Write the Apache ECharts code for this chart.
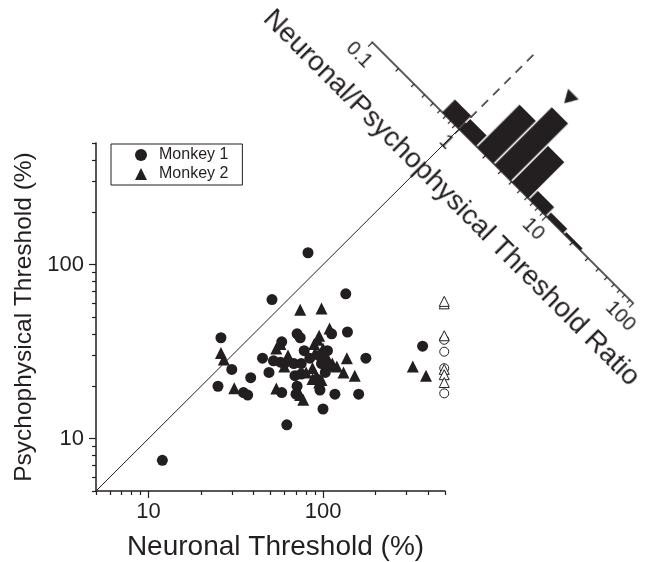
<!DOCTYPE html>
<html>
<head>
<meta charset="utf-8">
<script src="https://cdn.jsdelivr.net/npm/echarts@6/dist/echarts.min.js"></script>
<style>
html, body { margin: 0; padding: 0; overflow: hidden; background: #fff; }
#chart-container { position: absolute; left: 0; top: 0; width: 655px; height: 562px; }
/* ratio histogram: its axis origin (120,125) is pinned on the main chart and the box is turned 45deg */
#ratio-container { position: absolute; left: 251.5px; top: -82.7px; width: 570px; height: 205px;
  transform-origin: 120px 125px; transform: rotate(45deg); }
</style>
</head>
<body>
<div id="chart-container"></div>
<div id="ratio-container"></div>
<script>
// neuronal threshold (%), psychophysical threshold (%)
var monkey1 = [
  [12, 7.5], [82, 117], [51, 63], [135, 68], [26, 38], [138, 41], [71, 40], [74, 38],
  [58, 36], [372, 34], [78, 32], [45, 29], [52, 28], [176, 29], [30, 25], [49, 24],
  [38.5, 22.4], [25, 20], [35, 18.4], [37, 17.8], [71, 20], [58, 18.4], [96, 19], [117, 18],
  [160, 18], [100, 14.8], [62, 12], [112, 40], [57, 27.5], [60, 27], [68, 27], [75, 27],
  [69, 23], [75, 23.5], [98, 27], [103, 24], [95, 30], [106, 32], [92, 22], [70, 18],
  [84, 29], [110, 26]
];
var monkey2 = [
  [26, 31], [27, 28.5], [31, 19.5], [54, 19.4], [74, 55], [98, 56], [109, 43], [95, 39],
  [54, 33], [57, 35], [63, 30], [60, 26], [89, 35], [137, 29], [113, 27], [131, 24],
  [152, 23], [327, 26], [389, 23], [87, 22], [95, 21], [77, 16.7], [74, 17.8], [87, 25.5],
  [107, 28], [98, 21.7], [90, 31], [100, 33], [93, 37], [104, 30], [120, 26], [80, 24]
];
// neuronal threshold above the tested range
var monkey1Open = [[495, 37], [495, 31.6], [495, 25.4], [495, 18.2]];
var monkey2Open = [[495, 59.5], [495, 61.5], [495, 39], [495, 25], [495, 23.3], [495, 21]];

var majorTicks = [10, 100];
var minorTicks = [5, 6, 7, 8, 9, 20, 30, 40, 50, 60, 70, 80, 90, 200, 300, 400, 500];
var unityEnd = 600; // where the identity line meets the ratio axis

// histogram of neuronal/psychophysical ratio
var ratioBinEdges = [0.631, 1, 1.585, 2.512, 3.981, 6.31, 10, 15.85, 25.12];
var ratioCounts = [6, 5, 20, 27, 17, 4, 2, 1];
var ratioMajorTicks = [0.1, 1, 10, 100];
var ratioMinorTicks = [0.2, 0.3, 0.4, 0.5, 0.6, 0.7, 0.8, 0.9, 2, 3, 4, 5, 6, 7, 8, 9,
  20, 30, 40, 50, 60, 70, 80, 90];
var meanRatio = 2.85;

var LOG = Math.log10;
var ink = '#231f20';
var font = 'Liberation Sans, Arial, sans-serif';

function toLog(p) { return [LOG(p[0]), LOG(p[1])]; }
function powLabel(v) { return String(+Math.pow(10, v).toPrecision(3)); }

var dom = document.getElementById('chart-container');
var myChart = echarts.init(dom);
var option;

function mainAxis(dim, major) {
  var ax = {
    type: 'value',
    min: LOG(5),
    max: LOG(500),
    position: dim === 'x' ? 'bottom' : 'left',
    splitLine: { show: false },
    axisLine: { show: major, lineStyle: { color: ink, width: 1.5 } },
    axisTick: {
      customValues: (major ? majorTicks : minorTicks).map(LOG),
      length: major ? 7 : 4,
      lineStyle: { color: ink, width: 1.2 }
    },
    axisLabel: { show: false }
  };
  if (major) {
    ax.axisLabel = {
      customValues: majorTicks.map(LOG),
      formatter: powLabel,
      fontSize: 22,
      margin: dim === 'x' ? 10 : 12,
      color: ink,
      fontFamily: font
    };
    ax.name = dim === 'x' ? 'Neuronal Threshold (%)' : 'Psychophysical Threshold (%)';
    ax.nameLocation = 'middle';
    ax.nameGap = dim === 'x' ? 42 : 52;
    ax.nameTextStyle = dim === 'x'
      ? { fontSize: 28, color: ink, fontFamily: font, padding: [0, 0, 0, 10] }
      : { fontSize: 24.5, color: ink, fontFamily: font };
  }
  return ax;
}

// identity line, drawn past the grid up to the ratio axis
function renderUnity(params, api) {
  var a = api.coord([api.value(0), api.value(1)]);
  var b = api.coord([api.value(2), api.value(3)]);
  return {
    type: 'line',
    shape: { x1: a[0], y1: a[1], x2: b[0], y2: b[1] },
    style: { stroke: ink, lineWidth: 1 }
  };
}

option = {
  animation: false,
  grid: { left: 96, top: 143, width: 349, height: 348, outerBoundsMode: 'none' },
  legend: {
    orient: 'vertical',
    left: 111,
    top: 144,
    itemWidth: 12,
    itemHeight: 12,
    itemGap: 3,
    padding: [3, 14, 3, 24],
    borderColor: ink,
    borderWidth: 1,
    textStyle: { fontSize: 16, color: ink, fontFamily: font, padding: [0, 0, 0, 7] },
    data: [{ name: 'Monkey 1', icon: 'circle' }, { name: 'Monkey 2', icon: 'triangle' }]
  },
  xAxis: [mainAxis('x', true), mainAxis('x', false)],
  yAxis: [mainAxis('y', true), mainAxis('y', false)],
  series: [
    {
      type: 'custom',
      renderItem: renderUnity,
      silent: true,
      clip: false,
      data: [[LOG(5), LOG(5), LOG(unityEnd), LOG(unityEnd)]]
    },
    {
      name: 'Monkey 1', type: 'scatter', data: monkey1.map(toLog),
      symbol: 'circle', symbolSize: 11, itemStyle: { color: ink, opacity: 1 }
    },
    {
      name: 'Monkey 2', type: 'scatter', data: monkey2.map(toLog),
      symbol: 'triangle', symbolSize: 12, itemStyle: { color: ink, opacity: 1 }
    },
    {
      name: 'Monkey 1 open', type: 'scatter', data: monkey1Open.map(toLog), clip: false,
      symbol: 'circle', symbolSize: 9,
      itemStyle: { color: '#fff', borderColor: ink, borderWidth: 1, opacity: 1 }
    },
    {
      name: 'Monkey 2 open', type: 'scatter', data: monkey2Open.map(toLog), clip: false,
      symbol: 'triangle', symbolSize: 10,
      itemStyle: { color: '#fff', borderColor: ink, borderWidth: 1, opacity: 1 }
    }
  ]
};

if (option && typeof option === 'object') {
  myChart.setOption(option);
}

// ratio histogram
var ratioChart = echarts.init(document.getElementById('ratio-container'), null, { renderer: 'svg' });

var bins = ratioCounts.map(function (c, i) {
  return [LOG(ratioBinEdges[i]), LOG(ratioBinEdges[i + 1]), c];
});

function renderBin(params, api) {
  var tl = api.coord([api.value(0), api.value(2)]);
  var br = api.coord([api.value(1), 0]);
  return {
    type: 'rect',
    shape: { x: tl[0] + 0.8, y: tl[1], width: br[0] - tl[0] - 1.6, height: br[1] - tl[1] },
    style: { fill: ink }
  };
}

function ratioAxis(major) {
  var ax = {
    type: 'value',
    min: -1,
    max: 2,
    position: 'bottom',
    splitLine: { show: false },
    axisLine: { show: major, lineStyle: { color: ink, width: 1.5 } },
    axisTick: {
      customValues: (major ? ratioMajorTicks : ratioMinorTicks).map(LOG),
      length: major ? 6 : 4,
      lineStyle: { color: ink, width: 1.2 }
    },
    axisLabel: { show: false }
  };
  if (major) {
    ax.axisLabel = {
      customValues: ratioMajorTicks.map(LOG),
      formatter: powLabel,
      fontSize: 20,
      margin: 7,
      color: ink,
      fontFamily: font
    };
    ax.name = 'Neuronal/Psychophysical Threshold Ratio';
    ax.nameLocation = 'middle';
    ax.nameGap = 38;
    ax.nameTextStyle = { fontSize: 28, color: ink, fontFamily: font, padding: [0, 37, 0, 0] };
  }
  return ax;
}

ratioChart.setOption({
  animation: false,
  grid: { left: 120, top: 20, width: 369.6, height: 105, outerBoundsMode: 'none' },
  xAxis: [ratioAxis(true), ratioAxis(false)],
  yAxis: { type: 'value', min: 0, max: 35, show: false },
  series: [
    {
      type: 'line',
      data: [[0, 0], [0, 35]],
      symbol: 'none',
      silent: true,
      lineStyle: { color: ink, width: 1.5, type: [9, 7] }
    },
    { type: 'custom', renderItem: renderBin, data: bins },
    {
      type: 'scatter',
      data: [[LOG(meanRatio), 33]],
      symbol: 'triangle',
      symbolRotate: 180,
      symbolSize: [15, 13],
      itemStyle: { color: ink, opacity: 1 }
    }
  ]
});

window.addEventListener('resize', myChart.resize);
</script>
</body>
</html>
